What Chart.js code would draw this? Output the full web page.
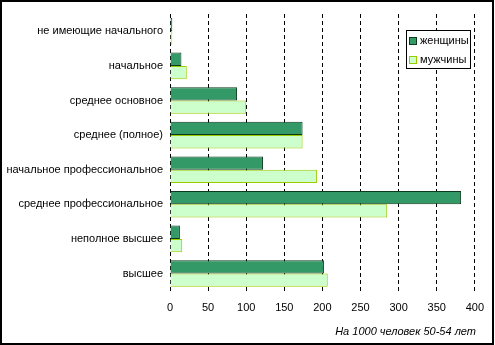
<!DOCTYPE html>
<html>
<head>
<meta charset="utf-8">
<script src="https://cdn.jsdelivr.net/npm/chart.js@4/dist/chart.umd.min.js"></script>
<style>
  html, body { margin: 0; padding: 0; background: #fff; }
  #wrap { position: relative; width: 495px; height: 345px; }
</style>
</head>
<body>
<div id="wrap"><canvas id="eduChart" width="495" height="345"></canvas></div>
<script>
// education level by sex, per 1000 people aged 50-54
var categories = ['не имеющие начального', 'начальное', 'среднее основное', 'среднее (полное)',
  'начальное профессиональное', 'среднее профессиональное', 'неполное высшее', 'высшее'];
var women = [3, 15, 88, 174, 122, 382, 13, 202];
var men = [3, 22, 100, 174, 193, 285, 16, 207];
var seriesNames = ['женщины', 'мужчины'];
var footNote = 'На 1000 человек 50-54 лет';

var FONT = 'Liberation Sans, Arial, sans-serif';

// boxed legend inside the plot, top right
var boxLegend = {
  id: 'boxLegend',
  afterDraw: function (chart) {
    var ctx = chart.ctx;
    var x = 406, y = 30, w = 64, h = 38;
    ctx.save();
    ctx.fillStyle = '#fff';
    ctx.fillRect(x, y, w, h);
    ctx.strokeStyle = '#000';
    ctx.lineWidth = 1;
    ctx.strokeRect(x + 0.5, y + 0.5, w, h);
    ctx.font = '11px ' + FONT;
    ctx.textBaseline = 'middle';
    chart.data.datasets.forEach(function (ds, i) {
      var cy = y + 11 + i * 19;
      ctx.fillStyle = ds.backgroundColor;
      ctx.fillRect(x + 4, cy - 3, 6, 6);
      ctx.strokeStyle = ds.borderColor;
      ctx.strokeRect(x + 3.5, cy - 3.5, 7, 7);
      ctx.fillStyle = '#000';
      ctx.fillText(ds.label, x + 14, cy);
    });
    ctx.restore();
  }
};

// outer frame
var frame = {
  id: 'frame',
  afterDraw: function (chart) {
    var ctx = chart.ctx;
    ctx.save();
    ctx.strokeStyle = '#000';
    ctx.lineWidth = 2;
    ctx.strokeRect(1, 1, chart.width - 3, chart.height - 2);
    ctx.restore();
  }
};

var ctx = document.getElementById('eduChart').getContext('2d');
var eduChart = new Chart(ctx, {
  type: 'bar',
  data: {
    labels: categories,
    datasets: [{
      label: seriesNames[0],
      data: women,
      backgroundColor: '#339966',
      borderColor: '#0b3a1c',
      borderWidth: 1
    }, {
      label: seriesNames[1],
      data: men,
      backgroundColor: '#ccffcc',
      borderColor: '#99cc00',
      borderWidth: 1
    }]
  },
  options: {
    responsive: false,
    animation: false,
    indexAxis: 'y',
    layout: {
      padding: { top: 14, right: 19, left: 0, bottom: 0 }
    },
    datasets: {
      bar: {
        categoryPercentage: 0.77,
        barPercentage: 1
      }
    },
    plugins: {
      legend: {
        display: false
      },
      tooltip: {
        enabled: false
      },
      title: {
        display: true,
        text: footNote,
        position: 'bottom',
        align: 'end',
        color: '#000',
        font: { family: FONT, size: 11, style: 'italic', weight: 'normal' },
        padding: { top: 9, bottom: 6 }
      }
    },
    scales: {
      x: {
        min: 0,
        max: 400,
        ticks: {
          stepSize: 50,
          color: '#000',
          padding: 11,
          font: { family: FONT, size: 11 }
        },
        grid: {
          color: '#000',
          lineWidth: 1,
          drawTicks: false
        },
        border: {
          display: false,
          dash: [4, 3]
        },
        afterFit: function (scale) {
          scale.height = 26;
        }
      },
      y: {
        ticks: {
          color: '#000',
          padding: 7,
          font: { family: FONT, size: 11 }
        },
        grid: {
          display: false,
          drawTicks: false
        },
        border: {
          display: false
        },
        afterFit: function (scale) {
          scale.width = 170;
        }
      }
    }
  },
  plugins: [boxLegend, frame]
});
</script>
</body>
</html>
